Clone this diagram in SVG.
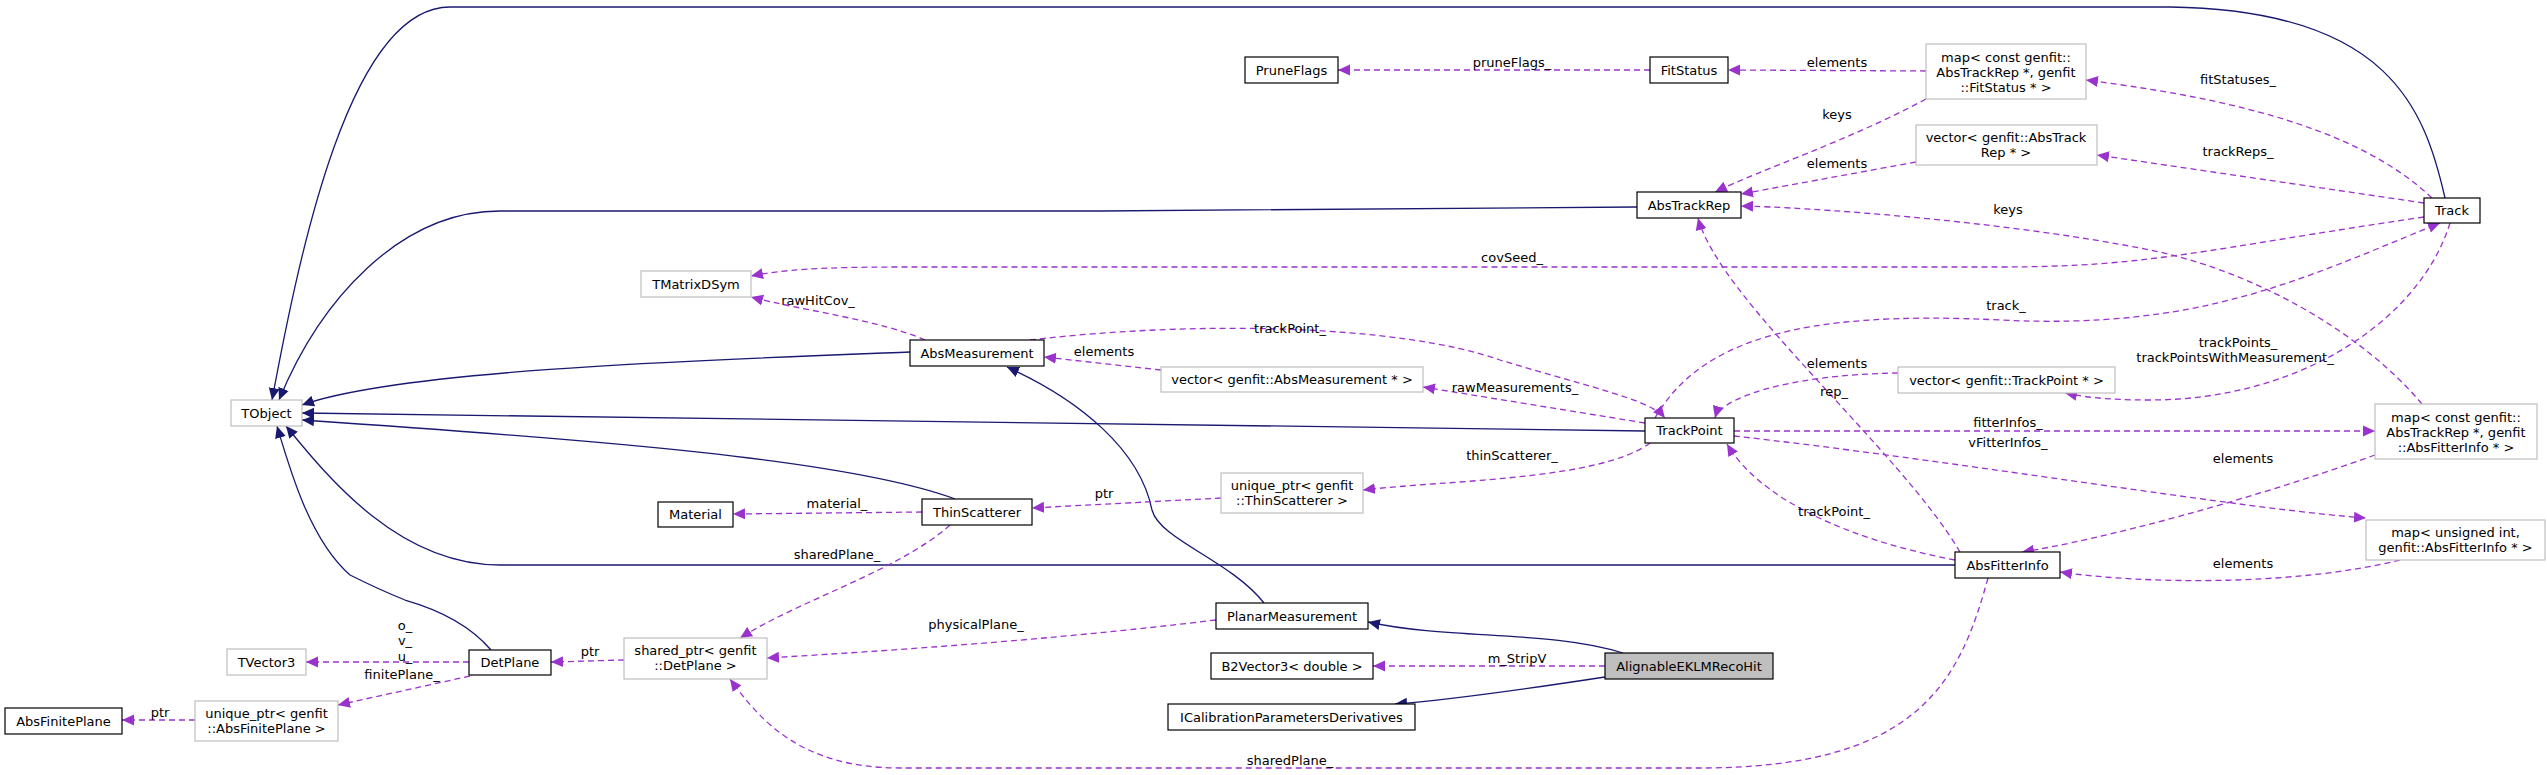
<svg xmlns="http://www.w3.org/2000/svg" width="2547" height="775" viewBox="0 0 2547 775">
<style>
text{font-family:"DejaVu Sans","Liberation Sans",sans-serif;font-size:13px;fill:#000;text-anchor:middle}
.n rect{fill:#fff;stroke:#000;stroke-width:1.2}
.u rect{fill:#fff;stroke:#bfbfbf;stroke-width:1.2}
.h rect{fill:#bfbfbf;stroke:#000;stroke-width:1.2}
.inh{fill:none;stroke:#191970;stroke-width:1.3;marker-end:url(#ai)}
.use{fill:none;stroke:#9a32cd;stroke-width:1.3;stroke-dasharray:6,4;marker-end:url(#au)}
</style>
<defs>
<marker id="ai" markerUnits="userSpaceOnUse" markerWidth="14" markerHeight="12" refX="12" refY="6" orient="auto"><path d="M0,0.5 L12,6 L0,11.5 z" fill="#191970"/></marker>
<marker id="au" markerUnits="userSpaceOnUse" markerWidth="14" markerHeight="12" refX="12" refY="6" orient="auto"><path d="M0,0.5 L12,6 L0,11.5 z" fill="#9a32cd"/></marker>
</defs>
<rect width="2547" height="775" fill="#fff"/>
<g id="edges">
<path class="inh" d="M2445,198 C2425,110 2390,10 2170,7 L450,7 C350,7 300,250 272,400"/>
<path class="inh" d="M1637,207 L1100,211 L500,211 C400,211 320,300 279,400"/>
<path class="inh" d="M910,352 C700,360 400,370 302,405"/>
<path class="inh" d="M1645,431 L302,413"/>
<path class="inh" d="M955,499 C850,460 600,440 302,420"/>
<path class="inh" d="M1955,565 L500,565 C400,565 330,480 286,426"/>
<path class="inh" d="M491,650 C470,625 440,610 405,600 C380,590 370,585 350,575 C310,540 290,470 277,426"/>
<path class="inh" d="M1264,603 C1230,560 1160,540 1152,510 C1140,450 1080,400 1007,367"/>
<path class="inh" d="M1623,653 C1550,630 1450,640 1368,622"/>
<path class="inh" d="M1605,677 C1520,690 1450,700 1395,704"/>
<path class="use" d="M1605,666 L1373,666"/>
<path class="use" d="M1216,620 C1050,640 900,650 767,658"/>
<path class="use" d="M950,525 C900,570 800,600 740,638"/>
<path class="use" d="M1988,578 C1960,680 1920,768 1700,768 L900,768 C800,768 760,720 730,679"/>
<path class="use" d="M624,660 L551,662"/>
<path class="use" d="M469,662 L306,662"/>
<path class="use" d="M470,676 L338,705"/>
<path class="use" d="M195,720 L122,720"/>
<path class="use" d="M922,512 L733,514"/>
<path class="use" d="M1221,498 L1032,508"/>
<path class="use" d="M1650,443 C1600,480 1450,480 1363,490"/>
<path class="use" d="M1645,423 L1423,387"/>
<path class="use" d="M1161,370 L1044,357"/>
<path class="use" d="M1030,340 C1200,320 1400,325 1500,360 C1600,390 1650,400 1665,418"/>
<path class="use" d="M925,340 C880,320 800,310 751,297"/>
<path class="use" d="M2424,217 C2200,250 2150,267 2000,267 L900,267 C820,267 780,270 751,276"/>
<path class="use" d="M2432,198 C2350,120 2200,95 2086,80"/>
<path class="use" d="M2424,203 L2097,155"/>
<path class="use" d="M1926,71 L1728,70"/>
<path class="use" d="M1650,70 L1338,70"/>
<path class="use" d="M1926,99 C1850,140 1760,170 1715,192"/>
<path class="use" d="M1916,162 L1741,194"/>
<path class="use" d="M2422,404 C2360,330 2250,270 2150,250 C2000,220 1800,207 1741,206"/>
<path class="use" d="M1960,552 C1900,450 1720,300 1698,218"/>
<path class="use" d="M1655,418 C1700,340 1800,310 2000,320 C2200,330 2300,280 2440,223"/>
<path class="use" d="M2450,223 C2420,320 2300,400 2150,400 C2100,400 2080,396 2065,393"/>
<path class="use" d="M1898,373 C1780,375 1720,400 1715,418"/>
<path class="use" d="M1734,431 L2375,431"/>
<path class="use" d="M1734,436 C1950,460 2250,510 2366,518"/>
<path class="use" d="M1955,560 C1850,540 1760,500 1727,444"/>
<path class="use" d="M2375,455 C2250,500 2100,540 2022,552"/>
<path class="use" d="M2400,560 C2300,585 2150,585 2060,572"/>
</g>
<g id="labels">
<text x="1512" y="67">pruneFlags_</text>
<text x="1837" y="67">elements</text>
<text x="2238" y="84">fitStatuses_</text>
<text x="1837" y="119">keys</text>
<text x="1837" y="168">elements</text>
<text x="2238" y="156">trackReps_</text>
<text x="2008" y="214">keys</text>
<text x="1512" y="262">covSeed_</text>
<text x="2006" y="310">track_</text>
<text x="2238" y="347">trackPoints_</text>
<text x="2235" y="362">trackPointsWithMeasurement_</text>
<text x="1837" y="368">elements</text>
<text x="1834" y="396">rep_</text>
<text x="1290" y="333">trackPoint_</text>
<text x="818" y="305">rawHitCov_</text>
<text x="1104" y="356">elements</text>
<text x="1515" y="392">rawMeasurements_</text>
<text x="2008" y="427">fitterInfos_</text>
<text x="2008" y="447">vFitterInfos_</text>
<text x="2243" y="463">elements</text>
<text x="2243" y="568">elements</text>
<text x="1512" y="460">thinScatterer_</text>
<text x="1834" y="516">trackPoint_</text>
<text x="1104" y="498">ptr</text>
<text x="837" y="508">material_</text>
<text x="837" y="559">sharedPlane_</text>
<text x="976" y="629">physicalPlane_</text>
<text x="1517" y="663">m_StripV</text>
<text x="1290" y="765">sharedPlane_</text>
<text x="405" y="630">o_</text>
<text x="405" y="645">v_</text>
<text x="405" y="661">u_</text>
<text x="402" y="679">finitePlane_</text>
<text x="590" y="656">ptr</text>
<text x="160" y="717">ptr</text>
</g>
<g id="TObject" class="u"><rect x="231" y="400" width="71" height="26"/><text x="266.5" y="418">TObject</text></g>
<g id="TMatrixDSym" class="u"><rect x="641" y="271" width="110" height="26"/><text x="696" y="289">TMatrixDSym</text></g>
<g id="Material" class="n"><rect x="658" y="502" width="75" height="25"/><text x="695.5" y="519">Material</text></g>
<g id="PruneFlags" class="n"><rect x="1245" y="57" width="93" height="26"/><text x="1291.5" y="75">PruneFlags</text></g>
<g id="FitStatus" class="n"><rect x="1650" y="57" width="78" height="26"/><text x="1689" y="75">FitStatus</text></g>
<g id="mapFitStatus" class="u"><rect x="1926" y="44" width="160" height="55"/><text x="2006" y="62">map&lt; const genfit::</text><text x="2006" y="77">AbsTrackRep *, genfit</text><text x="2006" y="92">::FitStatus * &gt;</text></g>
<g id="vecAbsTrackRep" class="u"><rect x="1916" y="125" width="181" height="40"/><text x="2006" y="142">vector&lt; genfit::AbsTrack</text><text x="2006" y="157">Rep * &gt;</text></g>
<g id="AbsTrackRep" class="n"><rect x="1637" y="192" width="104" height="26"/><text x="1689" y="210">AbsTrackRep</text></g>
<g id="Track" class="n"><rect x="2424" y="198" width="56" height="25"/><text x="2452" y="215">Track</text></g>
<g id="vecTrackPoint" class="u"><rect x="1898" y="367" width="217" height="26"/><text x="2006.5" y="385">vector&lt; genfit::TrackPoint * &gt;</text></g>
<g id="mapAbsFitterInfo" class="u"><rect x="2375" y="404" width="162" height="55"/><text x="2456" y="422">map&lt; const genfit::</text><text x="2456" y="437">AbsTrackRep *, genfit</text><text x="2456" y="452">::AbsFitterInfo * &gt;</text></g>
<g id="mapUInt" class="u"><rect x="2366" y="520" width="179" height="40"/><text x="2455.5" y="537">map&lt; unsigned int,</text><text x="2455.5" y="552">genfit::AbsFitterInfo * &gt;</text></g>
<g id="AbsFitterInfo" class="n"><rect x="1955" y="552" width="105" height="26"/><text x="2007.5" y="570">AbsFitterInfo</text></g>
<g id="AbsMeasurement" class="n"><rect x="910" y="340" width="134" height="26"/><text x="977" y="358">AbsMeasurement</text></g>
<g id="vecAbsMeasurement" class="u"><rect x="1161" y="367" width="262" height="25"/><text x="1292" y="384">vector&lt; genfit::AbsMeasurement * &gt;</text></g>
<g id="TrackPoint" class="n"><rect x="1645" y="418" width="89" height="25"/><text x="1689.5" y="435">TrackPoint</text></g>
<g id="uniqueThinScatterer" class="u"><rect x="1221" y="473" width="142" height="40"/><text x="1292" y="490">unique_ptr&lt; genfit</text><text x="1292" y="505">::ThinScatterer &gt;</text></g>
<g id="ThinScatterer" class="n"><rect x="922" y="499" width="110" height="26"/><text x="977" y="517">ThinScatterer</text></g>
<g id="PlanarMeasurement" class="n"><rect x="1216" y="603" width="152" height="26"/><text x="1292" y="621">PlanarMeasurement</text></g>
<g id="B2Vector3" class="n"><rect x="1211" y="653" width="162" height="26"/><text x="1292" y="671">B2Vector3&lt; double &gt;</text></g>
<g id="ICalibrationParametersDerivatives" class="n"><rect x="1168" y="704" width="247" height="26"/><text x="1291.5" y="722">ICalibrationParametersDerivatives</text></g>
<g id="AlignableEKLMRecoHit" class="h"><rect x="1605" y="653" width="168" height="26"/><text x="1689" y="671">AlignableEKLMRecoHit</text></g>
<g id="sharedDetPlane" class="u"><rect x="624" y="638" width="143" height="41"/><text x="695.5" y="655">shared_ptr&lt; genfit</text><text x="695.5" y="670">::DetPlane &gt;</text></g>
<g id="DetPlane" class="n"><rect x="469" y="650" width="82" height="25"/><text x="510" y="667">DetPlane</text></g>
<g id="TVector3" class="u"><rect x="227" y="649" width="79" height="26"/><text x="266.5" y="667">TVector3</text></g>
<g id="uniqueAbsFinitePlane" class="u"><rect x="195" y="701" width="143" height="40"/><text x="266.5" y="718">unique_ptr&lt; genfit</text><text x="266.5" y="733">::AbsFinitePlane &gt;</text></g>
<g id="AbsFinitePlane" class="n"><rect x="5" y="708" width="117" height="26"/><text x="63.5" y="726">AbsFinitePlane</text></g>
</svg>
